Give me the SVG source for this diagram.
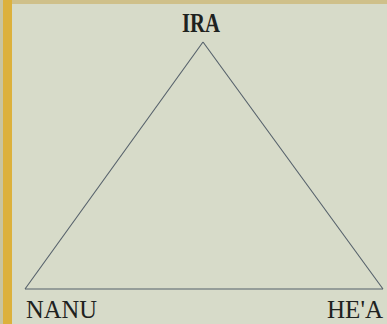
<svg xmlns="http://www.w3.org/2000/svg" width="387" height="324" viewBox="0 0 387 324">
<style>
.lbl{font-family:"Liberation Serif","Times New Roman",serif;fill:#1e2220;}
.edge{stroke:#55606a;stroke-width:1.1;fill:none;}
</style>
<rect x="0" y="0" width="387" height="324" fill="#d7dbc9"/>
<rect x="0" y="0" width="387" height="4" fill="#cfc08a"/>
<rect x="0" y="0" width="3" height="324" fill="#c9c5a0"/>
<rect x="3" y="0" width="9" height="324" fill="#dcb13c"/>
<g id="connectors">
<line class="edge" x1="203" y1="42" x2="25" y2="289"/>
<line class="edge" x1="203" y1="42" x2="383" y2="289"/>
<line class="edge" x1="25" y1="289" x2="383" y2="289"/>
</g>
<g id="ira"><text class="lbl" x="182" y="32" font-size="27" font-weight="bold" textLength="38" lengthAdjust="spacingAndGlyphs">IRA</text></g>
<g id="nanu"><text class="lbl" x="26" y="318" font-size="26" textLength="71" lengthAdjust="spacingAndGlyphs">NANU</text></g>
<g id="hea"><text class="lbl" x="327" y="318" font-size="26" textLength="56" lengthAdjust="spacingAndGlyphs">HE'A</text></g>
</svg>
